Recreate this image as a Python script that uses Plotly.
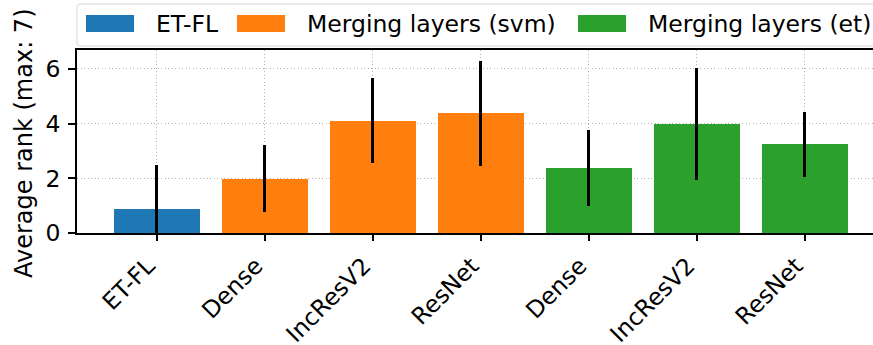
import plotly.graph_objects as go

# Data
labels = ["ET-FL", "Dense", "IncResV2", "ResNet", "Dense", "IncResV2", "ResNet"]
groups = ["ET-FL", "Merging layers (svm)", "Merging layers (svm)", "Merging layers (svm)",
          "Merging layers (et)", "Merging layers (et)", "Merging layers (et)"]
mean_rank = [0.86, 1.99, 4.11, 4.37, 2.37, 4.00, 3.24]
rank_std = [1.61, 1.22, 1.54, 1.92, 1.40, 2.05, 1.20]

group_names = ["ET-FL", "Merging layers (svm)", "Merging layers (et)"]
group_colors = ["#1f77b4", "#ff7f0e", "#2ca02c"]

W, H = 873, 345
ML, MR, MT, MB = 77, 0, 50, 112
PW, PH = W - ML - MR, H - MT - MB
FONT = "DejaVu Sans"
TICK_SIZE = 23.5


def px_x(px):
    return (px - ML) / PW


def px_y(py):
    return (H - MB - py) / PH


fig = go.Figure()
positions = list(range(len(labels)))
for name, color in zip(group_names, group_colors):
    idx = [i for i, g in enumerate(groups) if g == name]
    fig.add_trace(go.Bar(
        x=[positions[i] for i in idx],
        y=[mean_rank[i] for i in idx],
        error_y=dict(type="data", array=[rank_std[i] for i in idx],
                     color="black", thickness=3, width=0),
        marker=dict(color=color, line=dict(width=0)),
        width=0.8,
        name=name,
        showlegend=False,
    ))

grid = dict(showgrid=True, gridcolor="#b0b0b0", gridwidth=1.3, griddash="1.3px,2.2px")

fig.update_layout(
    width=W, height=H,
    margin=dict(l=ML, r=MR, t=MT, b=MB, pad=0, autoexpand=False),
    plot_bgcolor="white", paper_bgcolor="white",
    font=dict(family=FONT, size=TICK_SIZE, color="black"),
    bargap=0,
    xaxis=dict(
        range=[-0.74, -0.74 + PW / 108.0], automargin=False,
        tickmode="array", tickvals=positions, ticktext=labels,
        tickangle=-45, ticks="outside", ticklen=6, tickwidth=1.5, tickcolor="black",
        ticklabelshift=-9, ticklabelstandoff=2,
        showline=True, linecolor="black", linewidth=1.5, mirror=True,
        zeroline=False, tickfont=dict(size=TICK_SIZE, family=FONT, color="black"),
        **grid,
    ),
    yaxis=dict(
        range=[0, 6.69], automargin=False,
        tickmode="array", tickvals=[0, 2, 4, 6],
        ticks="outside", ticklen=7, tickwidth=1.5, tickcolor="black",
        ticklabelstandoff=3,
        showline=True, linecolor="black", linewidth=1.5, mirror=False,
        zeroline=False, tickfont=dict(size=TICK_SIZE, family=FONT, color="black"),
        **grid,
    ),
)

# Y axis title
fig.add_annotation(
    text="Average rank (max: 7)", textangle=-90,
    xref="paper", yref="paper", x=0, y=px_y(143),
    xanchor="center", yanchor="middle", xshift=24 - ML,
    showarrow=False, font=dict(size=24, family=FONT, color="black"),
)

# Legend frame with rounded corners
x0, x1, y0, y1, r = 77, 885, 4, 46, 3
rx, ry = r / PW, r / PH
X0, X1, Y0, Y1 = px_x(x0), px_x(x1), px_y(y0), px_y(y1)
path = (f"M {X0 + rx},{Y0} L {X1 - rx},{Y0} Q {X1},{Y0} {X1},{Y0 - ry} "
        f"L {X1},{Y1 + ry} Q {X1},{Y1} {X1 - rx},{Y1} L {X0 + rx},{Y1} "
        f"Q {X0},{Y1} {X0},{Y1 + ry} L {X0},{Y0 - ry} Q {X0},{Y0} {X0 + rx},{Y0} Z")
fig.add_shape(type="path", path=path, xref="paper", yref="paper",
              line=dict(color="#d6d6d6", width=1), fillcolor="white", layer="above")

# Legend entries
patch_left = [86, 237, 578]
text_left = [154, 305, 646]
for name, color, pl, tl in zip(group_names, group_colors, patch_left, text_left):
    fig.add_shape(type="rect", xref="paper", yref="paper",
                  x0=px_x(pl), x1=px_x(pl + 48), y0=px_y(32), y1=px_y(15),
                  line=dict(width=0), fillcolor=color, layer="above")
    fig.add_annotation(text=name, xref="paper", yref="paper",
                       x=px_x(tl), y=px_y(24), xanchor="left", yanchor="middle",
                       showarrow=False, font=dict(size=23.5, family=FONT, color="black"))

fig.write_html("out.html")
